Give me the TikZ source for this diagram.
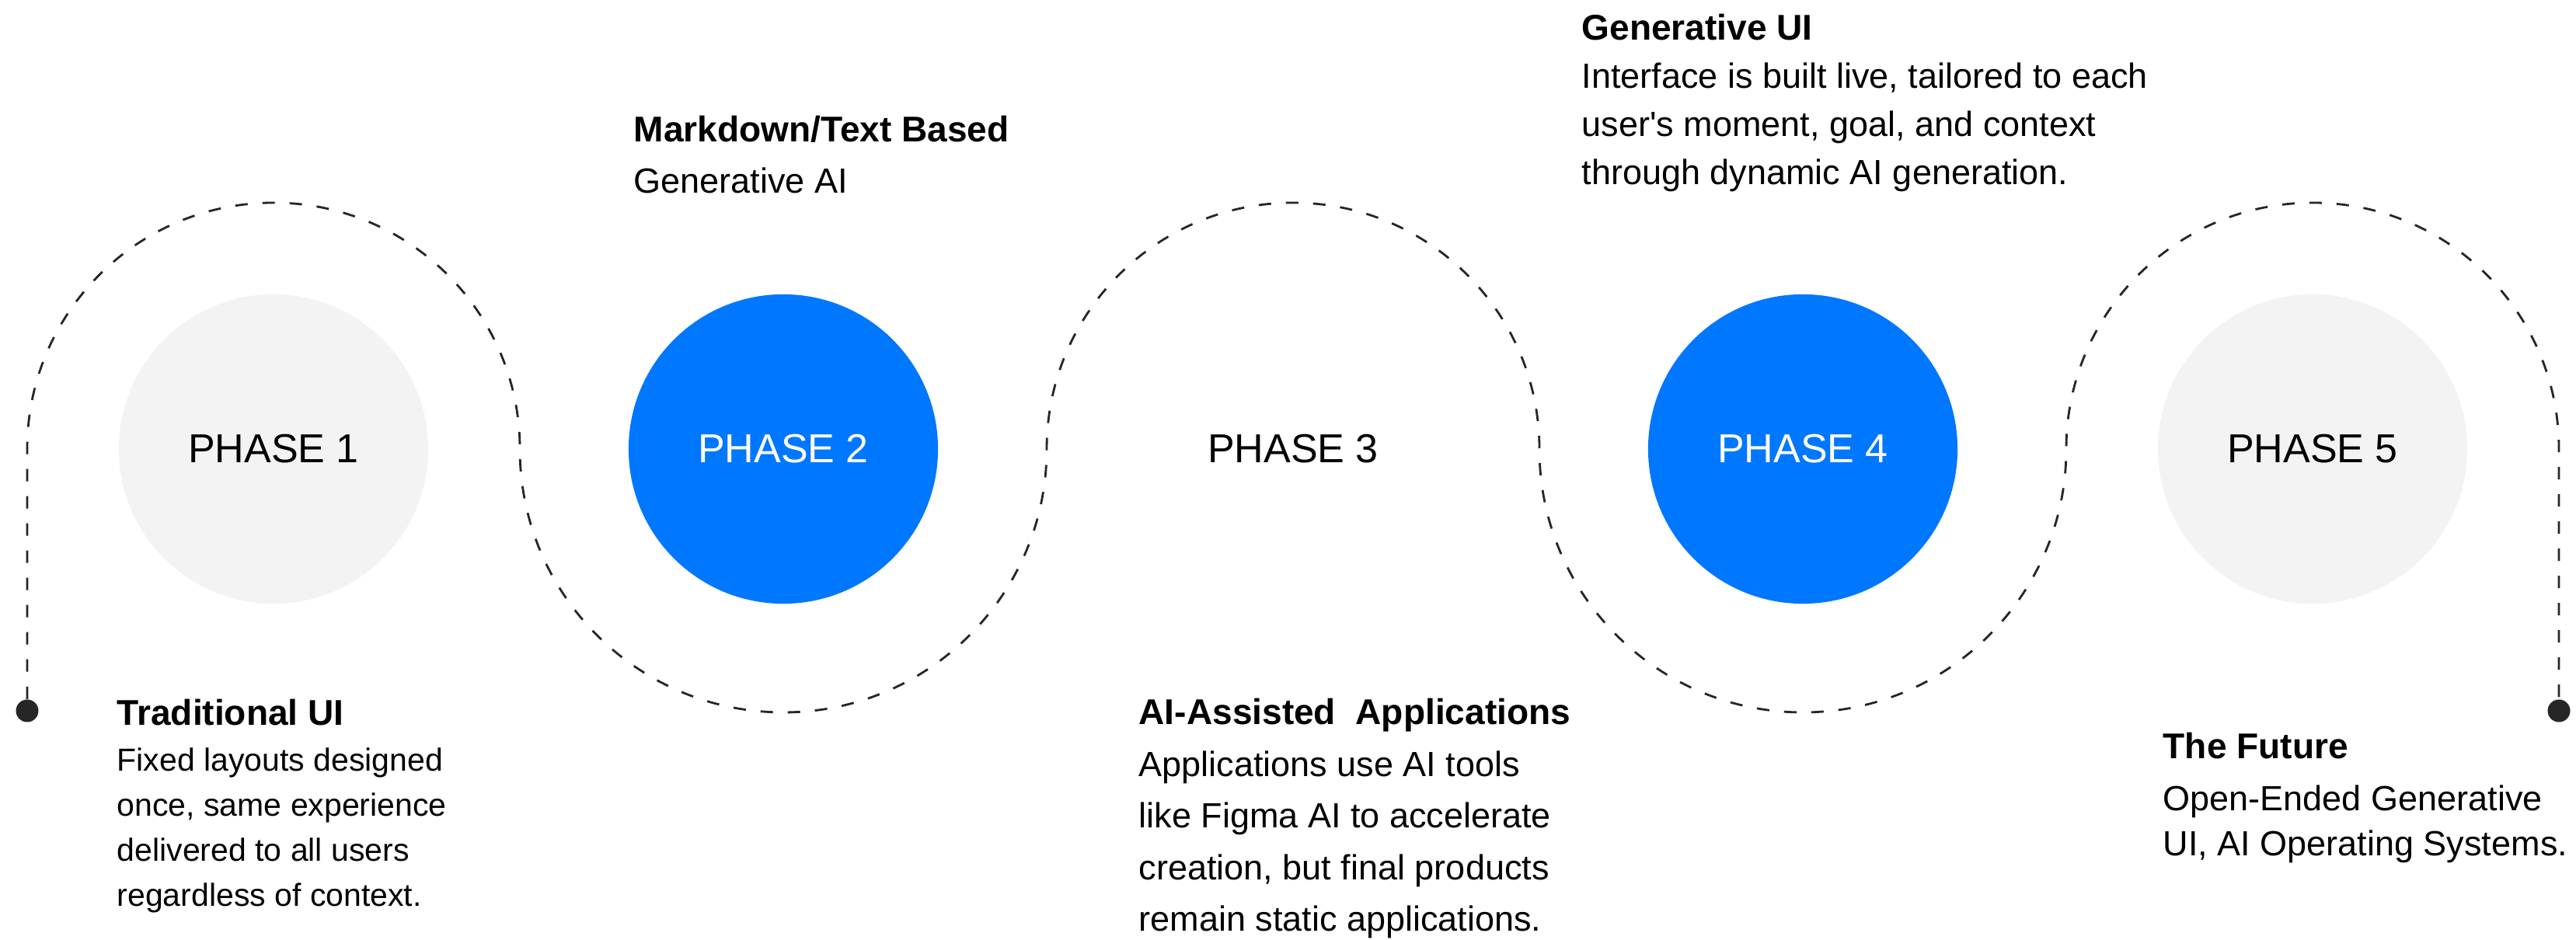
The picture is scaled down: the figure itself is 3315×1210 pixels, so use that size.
\documentclass[tikz,border=0pt]{standalone}
\usepackage{fontspec}
\setmainfont{Liberation Sans}
\definecolor{phaseblue}{RGB}{0,119,255}
\definecolor{phasegrey}{RGB}{243,243,243}
\definecolor{wavegrey}{RGB}{38,38,38}
\newcommand{\stagetext}[2]{\begin{tabular}[t]{@{}l@{}}{\fontsize{13.1}{13.1}\selectfont\bfseries #1}#2\end{tabular}}
\tikzset{
	phase/.style={circle, minimum size=3.98cm, inner sep=0pt, font=\fontsize{14.8}{14.8}\selectfont},
	enddot/.style={circle, fill=wavegrey, minimum size=0.29cm, inner sep=0pt},
	wave/.style={draw=wavegrey, line width=0.8pt, dash pattern=on 0.16cm off 0.19cm},
	stage/.style={anchor=base west, inner sep=0pt, text=black}
}

\begin{document}
\begin{tikzpicture}[x=0.01cm, y=0.01cm]
			%%%%% START %%%%%
			
			\fill[white] (0, 0) rectangle (3315, 1210);
			\useasboundingbox (0, 0) rectangle (3315, 1210);
			
			\node[phase, fill=phasegrey] (p1) at (352, 632) {PHASE 1};
			\node[phase, fill=phaseblue, text=white] (p2) at (1008, 632) {PHASE 2};
			\node[phase] (p3) at (1664, 632) {PHASE 3};
			\node[phase, fill=phaseblue, text=white] (p4) at (2320, 632) {PHASE 4};
			\node[phase, fill=phasegrey] (p5) at (2976, 632) {PHASE 5};
			
			\node[enddot] (startdot) at (35, 295) {};
			\node[enddot] (stopdot) at (3293, 295) {};
			
			\draw[wave] (startdot.north) -- (35, 632)
				arc[start angle=180, end angle=0, radius=317]
				arc[start angle=180, end angle=360, radius=339]
				arc[start angle=180, end angle=0, radius=317]
				arc[start angle=180, end angle=360, radius=339]
				arc[start angle=180, end angle=0, radius=317]
				-- (stopdot.north);
			
			\node[stage, font=\fontsize{11.66}{16.5}\selectfont] (s1) at (150, 276)
				{\stagetext{Traditional UI}{\\Fixed layouts designed\\once, same experience\\delivered to all users\\regardless of context.}};
			
			\node[stage, font=\fontsize{12.8}{18.5}\selectfont] (s2) at (815, 1027)
				{\stagetext{Markdown/Text Based}{\\Generative AI}};
			
			\node[stage, font=\fontsize{12.8}{18.9}\selectfont] (s3) at (1465, 277)
				{\stagetext{AI-Assisted\ \ Applications}{\\Applications use AI tools\\like Figma AI to accelerate\\creation, but final products\\remain static applications.}};
			
			\node[stage, font=\fontsize{12.8}{17.6}\selectfont] (s4) at (2035, 1158)
				{\stagetext{Generative UI}{\\Interface is built live, tailored to each\\user\textquotesingle s moment, goal, and context\\through dynamic AI generation.}};
			
			\node[stage, font=\fontsize{12.8}{16.5}\selectfont] (s5) at (2783, 233)
				{\stagetext{The Future}{\\[2.5pt]Open-Ended Generative\\UI, AI Operating Systems.}};
			
			%%%%% END %%%%%
		\end{tikzpicture}
\end{document}
